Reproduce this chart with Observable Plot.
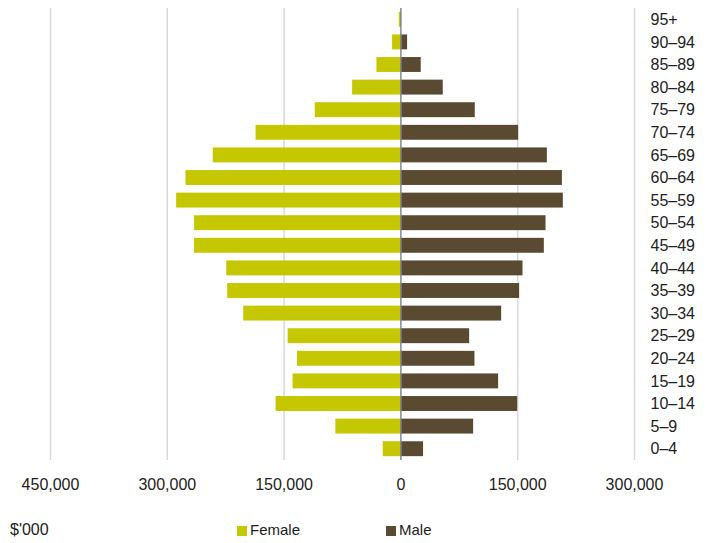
<!DOCTYPE html>
<html>
<head>
<meta charset="utf-8">
<script src="https://cdn.jsdelivr.net/npm/d3@7"></script>
<script src="https://cdn.jsdelivr.net/npm/@observablehq/plot@0.6"></script>
<style>
  body { margin: 0; background: #fff; font-family: "Liberation Sans", Arial, sans-serif; }
  #wrap { position: relative; width: 708px; height: 543px; }
  .leg { position: absolute; font-size: 15px; color: #222; top: 520px; line-height: 20px; }
  .sw { display: inline-block; width: 10px; height: 10px; margin-right: 3px; vertical-align: -1px; }
</style>
</head>
<body>
<div id="wrap"></div>
<script>
const ageGroups = ["95+","90–94","85–89","80–84","75–79","70–74","65–69","60–64","55–59","50–54","45–49","40–44","35–39","30–34","25–29","20–24","15–19","10–14","5–9","0–4"];
const female = [2000,10700,30800,62000,110000,186000,241000,276000,288000,265000,265000,223600,222400,201800,144800,132800,138400,160300,83500,22700];
const male = [800,8600,26100,54400,95500,151200,188100,207400,208600,186400,184200,156800,152500,129400,88300,95100,125500,150000,93400,29100];
const xTicks = [-450000,-300000,-150000,0,150000,300000];
const gridTicks = [-450000,-300000,-150000,150000,300000];

const rows = ageGroups.map((a, i) => ({age: a, female: female[i], male: male[i]}));
const fmt = d3.format(",");

const chart = Plot.plot({
  width: 708,
  height: 543,
  marginTop: 8,
  marginBottom: 83,
  marginLeft: 50,
  marginRight: 74,
  style: {fontFamily: "'Liberation Sans', Arial, sans-serif", fontSize: "16px", color: "#222", background: "#fff"},
  x: {domain: [-450000, 300000], ticks: xTicks, tickFormat: d => fmt(Math.abs(d)), tickSize: 0, tickPadding: 18, label: null},
  y: {domain: ageGroups, paddingInner: 0.34, paddingOuter: 0.17, round: false, axis: "right", tickSize: 0, tickPadding: 16, label: null},
  marks: [
    Plot.ruleX(gridTicks, {stroke: "#d9d9d9", strokeWidth: 1.5}),
    Plot.barX(rows, {y: "age", x1: d => -d.female, x2: 0, fill: "#c5c800"}),
    Plot.barX(rows, {y: "age", x1: 0, x2: "male", fill: "#5a4a32"}),
    Plot.ruleX([0], {stroke: "#888", strokeWidth: 1.5})
  ]
});
const wrap = document.getElementById("wrap");
wrap.appendChild(chart);

const unit = document.createElement("div");
unit.className = "leg"; unit.style.left = "10px"; unit.style.fontSize = "16px";
unit.textContent = "$'000";
wrap.appendChild(unit);

const legItems = [["Female", "#c5c800", 237], ["Male", "#5a4a32", 386]];
for (const [name, color, left] of legItems) {
  const d = document.createElement("div");
  d.className = "leg"; d.style.left = left + "px";
  const s = document.createElement("span"); s.className = "sw"; s.style.background = color;
  d.appendChild(s);
  d.appendChild(document.createTextNode(name));
  wrap.appendChild(d);
}
</script>
</body>
</html>
